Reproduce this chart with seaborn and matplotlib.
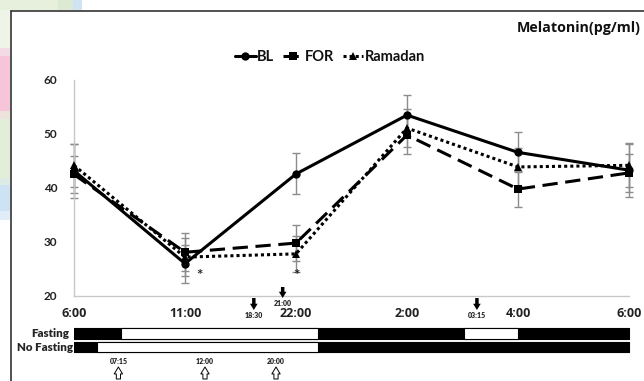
import numpy as np
import pandas as pd
import matplotlib
matplotlib.use("Agg")
import matplotlib.pyplot as plt
import seaborn as sns
from matplotlib.patches import Rectangle

# ---------------- data ----------------
times = ["6:00", "11:00", "22:00", "2:00", "4:00", "6:00"]
bl = [43.2, 26.0, 42.6, 53.5, 46.6, 43.3]
bl_err = [5.0, 3.5, 3.8, 3.8, 3.7, 5.0]
fo = [42.5, 28.1, 29.8, 49.8, 39.8, 42.8]
fo_err = [3.5, 3.5, 3.3, 3.5, 3.3, 3.5]
ram = [44.2, 27.2, 27.8, 51.1, 43.9, 44.2]
ram_err = [4.0, 3.5, 3.3, 3.5, 3.5, 4.0]
series_names = ["BL", "FOR", "Ramadan"]
yticks = [20, 30, 40, 50, 60]

# fasting schedule (category units along the time axis): white = eating window
fasting_white = [(0.42, 1.78), (3.51, 0.49)]
nofasting_white = [(0.21, 1.99)]
down_arrows = [("18:30", 1.62), ("21:00", 1.88), ("03:15", 3.63)]
up_arrows = [("07:15", 0.40), ("12:00", 1.18), ("20:00", 1.82)]
asterisk_pos = [(1.13, 23.7), (2.0, 23.7)]

W, H = 644, 381
sns.set_style("white")
plt.rcParams["font.family"] = ["Lato", "DejaVu Sans"]
plt.rcParams["font.weight"] = "bold"

fig = plt.figure(figsize=(W / 100, H / 100), dpi=100)


def fr(x, y, w, h):
    """top-left pixel box -> figure fraction rect"""
    return [x / W, 1 - (y + h) / H, w / W, h / H]


# background decorations (screenshot edges)
deco = [
    (0, 0, 58, 10, "#e6f0dc"), (58, 0, 15, 10, "#dcead3"), (73, 0, 9, 10, "#cfe3f3"),
    (0, 10, 10, 38, "#eef5e8"), (0, 48, 10, 8, "#f3dbe5"), (0, 56, 10, 55, "#f6c5d9"),
    (0, 111, 10, 8, "#ebe3dc"), (0, 119, 10, 59, "#e3eed8"), (0, 178, 10, 7, "#dcebe6"),
    (0, 185, 10, 26, "#cde2f2"), (0, 211, 10, 9, "#e0ecf7"),
]
for x, y, w, h, c in deco:
    r = fr(x, y, w, h)
    fig.patches.append(Rectangle((r[0], r[1]), r[2], r[3], transform=fig.transFigure,
                                 facecolor=c, edgecolor="none", zorder=0))
# frame lines
fig.add_artist(plt.Line2D([11 / W, 11 / W], [0, 1 - 10.5 / H], color="#333333", lw=1.2,
                          transform=fig.transFigure))
fig.add_artist(plt.Line2D([11 / W, 1], [1 - 10.5 / H, 1 - 10.5 / H], color="#333333", lw=1.2,
                          transform=fig.transFigure))

ax = fig.add_axes(fr(74, 80, 555, 216))
ax.set_facecolor("none")

x = np.arange(len(times))
df = pd.DataFrame({
    "pos": np.concatenate([x, x, x]),
    "value": bl + fo + ram,
    "group": np.repeat(series_names, len(times)),
})

# error bars
for vals, errs in [(bl, bl_err), (fo, fo_err), (ram, ram_err)]:
    ax.errorbar(x, vals, yerr=errs, fmt="none", ecolor="#8c8c8c", elinewidth=1,
                capsize=3, capthick=1, zorder=1, clip_on=False)

sns.lineplot(data=df, x="pos", y="value", hue="group", style="group",
             palette={"BL": "black", "FOR": "black", "Ramadan": "black"},
             markers={"BL": "o", "FOR": "s", "Ramadan": "^"},
             dashes={"BL": "", "FOR": (5, 2.5), "Ramadan": (1, 1)},
             linewidth=2.2, markersize=6, markeredgewidth=0, ax=ax, legend=True,
             zorder=3, clip_on=False)
for ln in ax.lines:
    ln.set_clip_on(False)

ax.set_xlim(0, 5)
ax.set_ylim(20, 60)
ax.set_yticks(yticks)
ax.set_xticks(x)
ax.set_xticklabels(times)
ax.set_xticks(np.arange(0.5, 5, 1), minor=True)
ax.set_xlabel("")
ax.set_ylabel("")
for s in ["top", "right"]:
    ax.spines[s].set_visible(False)
for s in ["left", "bottom"]:
    ax.spines[s].set_color("#c8c8c8")
    ax.spines[s].set_linewidth(1)
ax.tick_params(axis="y", length=0, pad=12, labelsize=8.5, labelcolor="#222222")
ax.tick_params(axis="x", which="both", direction="inout", length=6, color="#c8c8c8",
               width=1, labelsize=9, pad=5, labelcolor="#222222")
for lab in ax.get_xticklabels():
    lab.set_fontweight("bold")
    lab.set_family(["Open Sans", "DejaVu Sans"])
for lab in ax.get_yticklabels():
    lab.set_fontweight("bold")

# legend
h, l = ax.get_legend_handles_labels()
leg = ax.legend(h, l, loc="center", bbox_to_anchor=(330 / W, 1 - 57 / H),
                bbox_transform=fig.transFigure, ncol=3, frameon=False,
                handlelength=1.4, handletextpad=0.1, columnspacing=0.6,
                prop={"weight": "bold", "size": 10.5})
for t in leg.get_texts():
    t.set_color("#111111")

# asterisks
for ax_x, ax_y in asterisk_pos:
    ax.text(ax_x, ax_y, "*", ha="center", va="center", fontsize=11, fontweight="bold",
            clip_on=False)

# title
fig.text(641 / W, 1 - 28 / H, "Melatonin(pg/ml)", ha="right", va="center", fontsize=10.3,
         fontweight="bold", color="#111111", family=["Open Sans", "DejaVu Sans"])

xt = ax.get_xaxis_transform()


def ypx(p):
    return (296 - p) / 216


# down black arrows
for lab, pos in down_arrows:
    if lab == "21:00":
        top, bot, ly = 287, 298, 303
    else:
        top, bot, ly = 298, 310, 316
    ax.annotate("", xy=(pos, ypx(bot)), xytext=(pos, ypx(top)), xycoords=xt, textcoords=xt,
                arrowprops=dict(arrowstyle="simple,head_width=0.55,head_length=0.45,tail_width=0.25",
                                color="black", lw=0, shrinkA=0, shrinkB=0),
                annotation_clip=False)
    ax.text(pos, ypx(ly), lab, transform=xt, ha="center", va="center", fontsize=5,
            fontweight="heavy")

# up hollow arrows
for lab, pos in up_arrows:
    ax.annotate("", xy=(pos, ypx(367)), xytext=(pos, ypx(379)), xycoords=xt, textcoords=xt,
                arrowprops=dict(arrowstyle="simple,head_width=0.6,head_length=0.5,tail_width=0.3",
                                facecolor="white", edgecolor="black", lw=0.7,
                                shrinkA=0, shrinkB=0),
                annotation_clip=False)
    ax.text(pos, ypx(362), lab, transform=xt, ha="center", va="center", fontsize=5,
            fontweight="heavy")

# fasting bars
bx = fig.add_axes(fr(74, 327, 558, 26))
bx.set_xlim(0, 5 * 558 / 555)
bx.set_ylim(0, 2)
bx.axis("off")
bx.broken_barh([(0, 5)], (1.1, 0.8), facecolors="black", edgecolor="black", lw=0.8)
bx.broken_barh(fasting_white, (1.1, 0.8), facecolors="white", edgecolor="black", lw=0.8)
bx.broken_barh([(0, 5)], (0.05, 0.8), facecolors="black", edgecolor="black", lw=0.8)
bx.broken_barh(nofasting_white, (0.05, 0.8), facecolors="white", edgecolor="black", lw=0.8)
bx.text(-0.04, 1.5, "Fasting", ha="right", va="center", fontsize=8.3, fontweight="heavy")
bx.text(-0.01, 0.45, "No Fasting", ha="right", va="center", fontsize=8.3, fontweight="heavy")

fig.savefig("out.png", dpi=100)
